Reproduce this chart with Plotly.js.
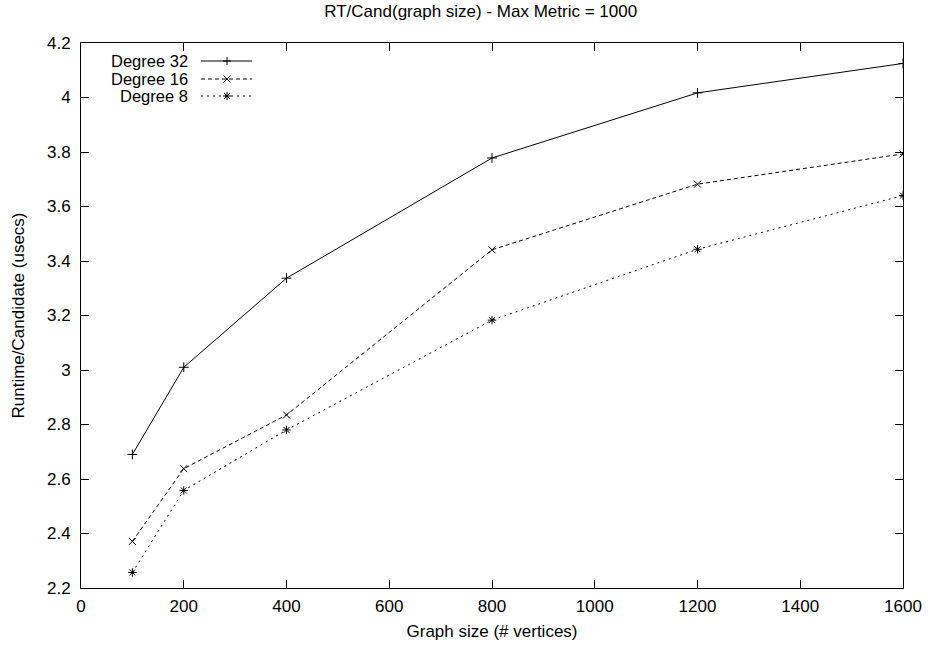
<!DOCTYPE html>
<html>
<head>
<meta charset="utf-8">
<script src="https://cdn.plot.ly/plotly-3.0.1.min.js"></script>
<style>html,body{margin:0;padding:0;background:#fff;}#chart{width:928px;height:648px;}</style>
</head>
<body>
<div id="chart"></div>
<script>
const graphSizes = [100, 200, 400, 800, 1200, 1600];
const degree32 = [2.69, 3.01, 3.337, 3.778, 4.017, 4.125];
const degree16 = [2.371, 2.638, 2.835, 3.441, 3.682, 3.793];
const degree8  = [2.257, 2.558, 2.78, 3.183, 3.443, 3.64];
const seriesNames = ["Degree 32", "Degree 16", "Degree 8"];

const W = 928, H = 648;
const M = {l: 81, r: 25, t: 43, b: 60};
const PW = W - M.l - M.r, PH = H - M.t - M.b;
const fam = "Liberation Sans, Arial, sans-serif";
const font = {family: fam, size: 17, color: "#000"};
const keyFont = {family: fam, size: 16.5, color: "#000"};

const styles = [
  {dash: "solid", symbol: "cross-thin-open", path: "M-4,0H4M0,-4V4"},
  {dash: "4px,3px", symbol: "x-thin-open", path: "M-3.5,-3.5L3.5,3.5M-3.5,3.5L3.5,-3.5"},
  {dash: "2px,4px", symbol: "asterisk-open", path: "M-4,0H4M0,-4V4M-3,-3L3,3M-3,3L3,-3"}
];
const series = [degree32, degree16, degree8];

const data = series.map((y, i) => ({
  x: graphSizes, y: y, name: seriesNames[i], type: "scatter", mode: "lines+markers",
  showlegend: false,
  line: {color: "#000", width: 1, dash: styles[i].dash},
  marker: {symbol: styles[i].symbol, size: 7, color: "#000", line: {color: "#000", width: 1}}
}));

// gnuplot-style key: text right-aligned, then sample line with marker
const px2x = px => (px - M.l) / PW;
const py2y = py => (H - M.b - py) / PH;
const rowY = [61, 79, 96];
const annotations = [], shapes = [];
seriesNames.forEach((name, i) => {
  const yp = py2y(rowY[i]);
  annotations.push({xref: "paper", yref: "paper", x: px2x(189), y: yp, xanchor: "right", yanchor: "middle",
    text: name, showarrow: false, font: keyFont, borderpad: 0});
  shapes.push({type: "line", xref: "paper", yref: "paper", x0: px2x(201), x1: px2x(252), y0: yp, y1: yp,
    line: {color: "#000", width: 1, dash: styles[i].dash}});
  shapes.push({type: "path", xref: "paper", yref: "paper", xsizemode: "pixel", ysizemode: "pixel",
    xanchor: px2x(227), yanchor: yp, path: styles[i].path, line: {color: "#000", width: 1}});
});

const axisCommon = {
  showline: true, mirror: "ticks", linecolor: "#000", linewidth: 1,
  ticks: "inside", ticklen: 8, tickcolor: "#000", tickwidth: 1,
  showgrid: false, zeroline: false, tickfont: font
};

const layout = {
  width: W, height: H,
  margin: M,
  paper_bgcolor: "#fff", plot_bgcolor: "#fff",
  font: font,
  title: {text: "RT/Cand(graph size) - Max Metric = 1000", font: font, x: 0.518, xanchor: "center", y: 0.992, yanchor: "top"},
  xaxis: Object.assign({}, axisCommon, {range: [0, 1600], dtick: 200, tick0: 0, ticklabelstandoff: 3,
    title: {text: "Graph size (# vertices)", font: font, standoff: 9}}),
  yaxis: Object.assign({}, axisCommon, {range: [2.2, 4.2], dtick: 0.2, tick0: 2.2, ticklabelstandoff: 6,
    title: {text: "Runtime/Candidate (usecs)", font: font, standoff: 18}}),
  showlegend: false,
  annotations: annotations,
  shapes: shapes
};

Plotly.newPlot("chart", data, layout, {displayModeBar: false, staticPlot: true});
</script>
</body>
</html>
